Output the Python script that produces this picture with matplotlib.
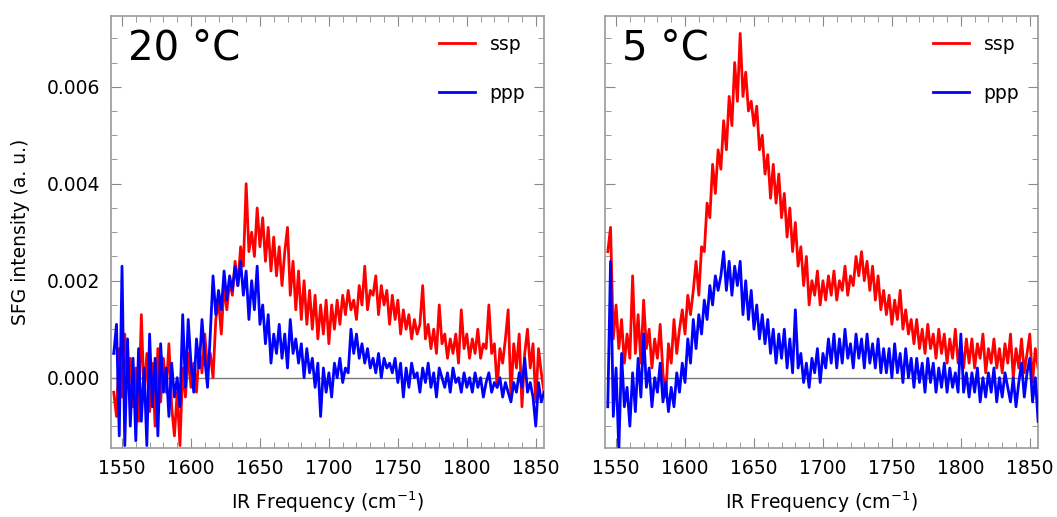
import numpy as np
import matplotlib
matplotlib.use("Agg")
import matplotlib.pyplot as plt
from matplotlib.ticker import MultipleLocator

# wavenumbers (cm-1), every 2 cm-1
freq = np.arange(1544, 1857, 2)

# intensities in units of 1e-4 (a. u.)
ssp_20 = [
    -3,
    -8, 6, -4, 9, -2, 4, -6, 2, -9, 13,
    -4, 5, -7, 3, -10, 6, -5, 4, -3, 7,
    -6, -12, -3, -14, 2, -4, 5, -2, 3, -3,
    6, 1, 9, 2, 5, 0, 12, 16, 9, 19,
    14, 20, 17, 24, 19, 27, 23, 40, 26, 30,
    25, 35, 27, 33, 24, 31, 22, 29, 21, 27,
    19, 26, 31, 17, 24, 14, 22, 12, 20, 11,
    18, 10, 17, 8, 15, 9, 16, 7, 15, 10,
    16, 11, 17, 13, 18, 14, 16, 12, 19, 15,
    23, 14, 18, 17, 21, 13, 19, 15, 18, 11,
    17, 12, 16, 9, 14, 10, 13, 8, 12, 9,
    11, 19, 8, 11, 6, 10, 5, 15, 7, 9,
    4, 8, 5, 9, 3, 14, 6, 9, 4, 8,
    5, 10, 4, 7, 6, 15, 5, 7, -2, 6,
    3, 8, 14, -4, 7, 2, 9, -6, 5, 10,
    2, 7, -5, 6, 1, -3,
]
ppp_20 = [
    5,
    11, -12, 23, -14, 8, -10, 4, -13, 6, -9,
    2, -14, 9, -6, 4, -12, 7, -3, 2, -8,
    3, -4, 0, -6, 13, -2, 12, 3, -3, 8,
    2, 12, 4, -2, 9, 21, 13, 18, 14, 22,
    16, 21, 18, 23, 19, 24, 17, 22, 12, 20,
    14, 23, 11, 15, 7, 13, 3, 9, 5, 11,
    4, 9, 2, 12, 5, 8, 3, 7, 0, 6,
    1, 4, -2, 3, -8, 2, -3, 1, -4, 3,
    0, 4, -1, 2, 1, 10, 5, 9, 4, 7,
    3, 6, 2, 4, 1, 5, 0, 4, 2, 3,
    1, 4, -1, 3, -4, 2, -2, 3, 0, 1,
    -3, 2, -1, 3, -2, 1, -4, 2, 0, -2,
    1, -3, 2, -1, 0, -3, 1, -2, 0, -3,
    1, -2, 0, -4, -1, 1, -3, -1, -2, 0,
    -4, -1, -3, -5, -1, -3, 1, -2, 4, -3,
    -1, -4, -10, -1, -5, -3,
]
ssp_5 = [
    26,
    31, 8, 15, 6, 12, 3, 9, 4, 21, 5,
    13, 3, 16, 6, 10, 2, 8, 4, 11, 1,
    -4, 7, 3, 12, 5, 10, 14, 9, 17, 13,
    18, 24, 17, 27, 26, 36, 33, 44, 38, 47,
    43, 53, 47, 58, 52, 65, 57, 71, 58, 63,
    55, 57, 52, 56, 47, 50, 42, 46, 37, 44,
    36, 42, 33, 38, 29, 35, 26, 32, 23, 27,
    19, 25, 15, 20, 17, 22, 15, 20, 16, 21,
    17, 22, 16, 20, 18, 23, 17, 21, 19, 25,
    21, 26, 20, 24, 18, 23, 16, 21, 14, 18,
    13, 17, 11, 16, 12, 18, 10, 14, 9, 12,
    7, 12, 6, 10, 5, 11, 6, 9, 4, 10,
    5, 9, 3, 8, 4, 10, 3, 7, 2, 8,
    3, 8, 2, 7, 4, 9, 1, 6, 3, 8,
    2, 6, 1, 7, 3, 9, 0, 6, 2, 8,
    1, 5, 9, -1, 6, 2,
]
ppp_5 = [
    -6,
    24, -8, 2, -15, 5, -6, -2, -10, 1, -7,
    4, -4, 9, -2, 2, -6, 0, -3, 3, -5,
    -1, -7, -2, -6, 1, -3, 3, -1, 8, 3,
    12, 6, 13, 9, 16, 12, 19, 15, 21, 18,
    21, 26, 18, 24, 17, 23, 19, 24, 13, 20,
    12, 18, 10, 15, 8, 13, 7, 12, 5, 10,
    3, 9, 4, 10, 2, 8, 1, 14, 2, 5,
    -1, 3, -2, 4, 1, 6, -1, 5, 2, 8,
    3, 9, 2, 8, 3, 10, 4, 7, 2, 9,
    4, 8, 2, 9, 3, 7, 2, 8, 1, 6,
    1, 6, 0, 7, 1, 5, -1, 6, 0, 4,
    -2, 4, -1, 3, -3, 4, -1, 3, -3, 2,
    -2, 3, -3, 2, -2, 1, -3, 9, -3, 1,
    -4, 1, -3, 2, -5, 0, -4, 1, -3, 2,
    -5, 0, -4, 1, -2, -5, 0, -6, -1, 3,
    -4, 1, 4, -5, 0, -9,
]

panels = [("20 °C", ssp_20, ppp_20), ("5 °C", ssp_5, ppp_5)]

plt.rcParams["font.family"] = "DejaVu Sans"

fig = plt.figure(figsize=(10.57, 5.17), dpi=100)
ax1 = fig.add_axes([0.105, 0.1335, 0.4097, 0.8356])
ax2 = fig.add_axes([0.5724, 0.1335, 0.4097, 0.8356], sharey=ax1)

for ax, (title, ssp, ppp) in zip([ax1, ax2], panels):
    ax.axhline(0, color="#777777", lw=1, zorder=1)
    ax.plot(freq, np.array(ssp) * 1e-4, color="red", lw=2, label="ssp", zorder=2)
    ax.plot(freq, np.array(ppp) * 1e-4, color="blue", lw=2, label="ppp", zorder=3)
    ax.set_xlim(1542, 1856)
    ax.set_ylim(-0.00145, 0.00746)
    ax.xaxis.set_major_locator(MultipleLocator(50))
    ax.xaxis.set_minor_locator(MultipleLocator(10))
    ax.yaxis.set_major_locator(MultipleLocator(0.002))
    ax.yaxis.set_minor_locator(MultipleLocator(0.0005))
    ax.tick_params(which="both", direction="in", top=True, right=True,
                   color="#888888", labelsize=13.5, pad=8)
    ax.tick_params(which="major", length=7)
    ax.tick_params(which="minor", length=4)
    for s in ax.spines.values():
        s.set_color("#999999")
        s.set_linewidth(1.2)
    ax.set_xlabel("IR Frequency (cm$^{-1}$)", fontsize=13.5, labelpad=8)
    ax.text(0.04, 0.97, title, transform=ax.transAxes, fontsize=29,
            va="top", ha="left")
    ax.legend(loc="upper right", frameon=False, fontsize=13.5,
              handlelength=1.9, labelspacing=1.6, borderaxespad=0.6,
              bbox_to_anchor=(1.0, 1.0))

ax1.set_ylabel("SFG intensity (a. u.)", fontsize=13.5, labelpad=12)
ax1.yaxis.set_major_formatter(plt.FuncFormatter(lambda v, p: f"{v:.3f}"))
plt.setp(ax2.get_yticklabels(), visible=False)

fig.savefig("out.png", dpi=100)
